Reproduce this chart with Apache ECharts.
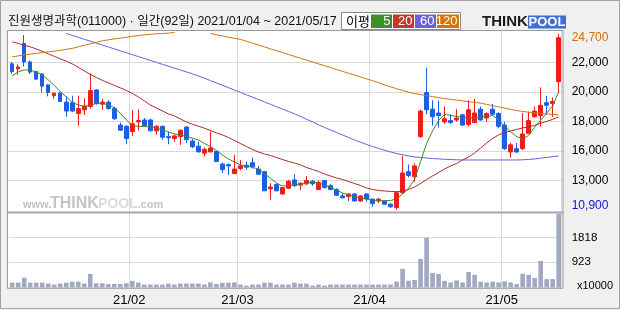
<!DOCTYPE html>
<html><head><meta charset="utf-8">
<script src="https://cdn.jsdelivr.net/npm/echarts@6/dist/echarts.min.js"></script>
<style>html,body{margin:0;padding:0;background:#f0f0f0}#c{width:620px;height:310px}</style>
</head><body><div id="c"></div>
<script>
// ---- data ----
const stockName = '진원생명과학';
const stockCode = '011000';
const periodName = '일간';
const janDays = [4,5,6,7,8,11,12,13,14,15,18,19,20,21,22,25,26,27,28,29];
const febDays = [1,2,3,4,5,8,9,10,15,16,17,18,19,22,23,24,25,26];
const marDays = [2,3,4,5,8,9,10,11,12,15,16,17,18,19,22,23,24,25,26,29,30,31];
const aprDays = [1,2,5,6,7,8,9,12,13,14,15,16,19,20,21,22,23,26,27,28,29,30];
const mayDays = [3,4,6,7,10,11,12,13,14,17];

const openP = [22350,21950,23950,22500,21750,21550,20700,19850,20050,19350,
 19300,18450,18750,19000,20300,19200,19350,18850,17550,17450,
 17050,17800,17950,17950,17100,17450,16650,16500,16650,17400,
 16300,15900,15350,15450,15500,14500,14450,13750,14150,14400,
 14600,14100,13900,12550,12900,12150,12600,13250,12850,12950,
 13150,12500,13200,12800,12500,12000,11950,12150,11600,12150,
 11750,11600,11600,11350,11100,12250,13900,13500,16650,20100,
 18800,18500,17800,17900,17950,18350,17600,17750,18800,18100,
 18800,18450,17550,15450,15700,15700,16900,18200,18300,19300,
 19250,20950];
const closeP = [21750,22100,22500,21700,21150,20600,20100,20050,19400,18650,
 18650,18850,19050,20250,19250,19350,18850,18050,17150,16500,
 17650,17900,17500,17100,17450,16600,16550,16700,17150,16400,
 15850,15450,15650,15750,14700,14050,14350,14100,14350,14250,
 14300,13700,12400,12700,12400,12650,13150,12800,13000,13200,
 12950,13050,12650,12500,12050,11850,12150,11600,12000,11750,
 11400,11750,11350,11150,12250,13800,13600,14350,18650,18750,
 18200,18300,18050,17750,18100,17550,18750,18500,17950,18450,
 18400,17450,15700,16000,15450,16850,17900,18650,19100,19100,
 19400,24400];
const lowP = [21550,21500,22150,21550,21100,20100,19800,19600,19350,18200,
 18600,17500,18350,18850,19150,18750,18750,17950,17100,16050,
 16700,17100,17450,17050,16800,16400,16050,16250,16000,16150,
 15750,15400,15100,15400,14650,13800,13650,13700,14000,14050,
 14150,13650,12400,11700,12350,12100,12550,12700,12450,12850,
 12800,12450,12600,12450,12000,11800,11600,11550,11550,11550,
 11150,11450,11300,11050,10900,12150,13450,13100,16550,18400,
 17500,17350,17650,17650,17800,17500,17450,17700,17900,17800,
 18300,17300,15600,15000,15350,15600,16850,18150,17450,18350,
 18200,20150];
const highP = [22500,22300,24600,22600,21800,21600,20750,20100,20150,19800,
 19850,19850,19650,21600,20350,19600,19500,19000,17750,17550,
 18750,18800,18100,18050,17550,17500,17050,16800,17200,17450,
 16450,16250,15800,17050,15550,14600,14550,15200,14800,14700,
 15000,14350,13950,13000,12950,12700,13250,13700,13050,13550,
 13250,13200,13250,12950,12600,12200,12200,12200,12050,12200,
 11800,11850,11650,11450,12350,15150,14450,14550,18750,22050,
 19500,19450,19000,18400,18800,18400,19500,19600,19000,18550,
 19200,18550,17800,16150,16150,18500,18600,19000,20500,19850,
 19700,24700];
const volume = [170,170,350,170,170,170,135,100,135,170,
 205,205,135,488,146,146,120,120,120,146,
 235,170,100,100,100,100,135,100,135,135,
 135,135,100,180,120,160,170,180,100,60,
 100,100,170,170,100,100,100,170,135,135,
 60,100,60,100,100,100,100,100,100,100,
 100,100,100,100,205,670,240,270,1037,1806,
 525,490,235,175,250,175,560,455,205,175,
 205,180,215,175,120,490,455,340,960,300,
 300,2680];
const ma5 = [21405,21719,21876,21837,21719,21484,21092,20660,20174,19758,
 19327,19131,19013,19091,19248,19209,19170,18896,18480,17954,
 17523,17445,17429,17429,17327,17170,17013,16856,16778,16660,
 16519,16386,16111,15860,15562,15209,14896,14660,14425,14347,
 14229,14111,13758,13382,13013,12778,12817,12856,12895,13013,
 13092,13013,12856,12676,12464,12229,12072,11955,11837,11758,
 11680,11625,11625,11641,11758,12151,12600,13300,14700,16100,
 17100,17900,18386,18307,18229,18150,18111,18111,18190,18229,
 18300,17970,17460,17030,16650,16480,16740,17380,17930,18490,
 19060,20150];
const ma20 = [24072,23954,23797,23680,23523,23327,23131,22935,22739,22558,
 22346,22072,21797,21523,21288,21052,20856,20660,20464,20268,
 20033,19758,19445,19131,18896,18660,18425,18268,18033,17798,
 17617,17460,17303,17131,16935,16778,16582,16347,16111,15876,
 15641,15445,15288,15170,15013,14856,14700,14582,14425,14229,
 14072,13915,13719,13562,13405,13288,13131,12974,12817,12621,
 12504,12425,12386,12347,12331,12362,12504,12700,12974,13288,
 13562,13837,14111,14347,14543,14817,15052,15366,15758,16151,
 16503,16778,16974,17092,17209,17327,17405,17523,17695,17837,
 17994,18190];
const ma60 = [null,null,null,null,null,null,null,null,null,24723,
 24574,24425,24276,24127,23970,23821,23672,23523,23366,23217,
 23068,22919,22770,22621,22464,22315,22166,22017,21868,21719,
 21562,21405,21225,21037,20856,20668,20480,20299,20111,19923,
 19743,19554,19366,19178,18990,18809,18621,18433,18229,18009,
 17798,17578,17366,17170,16974,16778,16582,16386,16206,16033,
 15876,15719,15578,15445,15327,15225,15131,15052,15013,14966,
 14927,14896,14872,14849,14833,14817,14817,14817,14817,14817,
 14817,14817,14817,14817,14817,14833,14856,14896,14951,15013,
 15076,15131];
const ma120 = [22895,22974,23052,23107,23170,23233,23288,23343,23405,23484,
 23562,23680,23797,23915,24033,24150,24229,24307,24362,24425,
 24503,24566,24621,24660,24699,24723,24754,24817,null,null,
 null,null,null,24739,24621,24543,24441,24346,24268,24119,
 23970,23821,23680,23523,23382,23233,23084,22935,22786,22645,
 22503,22346,22205,22056,21907,21759,21617,21468,21327,21170,
 21029,20880,20699,20543,20401,20268,20127,20017,19939,19860,
 19782,19703,19625,19562,19507,19445,19382,19327,19264,19170,
 19076,18974,18880,18778,18691,18621,18558,18503,18464,18425,
 18386,18347];
const priceTickLabels = ['13,000','16,000','18,000','20,000','22,000'];
const volumeTickValues = [923, 1818];
const maPeriods = [5, 20, 60, 120];
const maColors = ['#3e8a22', '#b02a2a', '#6b5fd8', '#d2730f'];
const maBoxColors = ['#3e8e2a', '#c1392b', '#6a62d6', '#d67400'];

// ---- build ----
const pad = n => (n < 10 ? '0' : '') + n;
const categories = [];
[[1, janDays], [2, febDays], [3, marDays], [4, aprDays], [5, mayDays]].forEach(([m, days]) => {
  days.forEach(d => categories.push('2021/' + pad(m) + '/' + pad(d)));
});
const monthStart = i => i > 0 && categories[i].slice(5, 7) !== categories[i - 1].slice(5, 7);
const fmt = v => String(v).replace(/\B(?=(\d{3})+(?!\d))/g, ',');
const candleData = openP.map((o, i) => [o, closeP[i], lowP[i], highP[i]]);
const maxHigh = Math.max(...highP), minLow = Math.min(...lowP);
const maSeries = [ma5, ma20, ma60, ma120];

const LAT = 'Liberation Sans';
const KR = 'Noto Sans CJK KR';
const GRID_LINE = '#d9d9d9';

const titleText = stockName + '(' + stockCode + ') · ' + periodName + '(' + categories.length + '일) ' +
  categories[0] + ' ~ ' + categories[categories.length - 1];

const graphics = [
  {type: 'rect', z: -10, silent: true, shape: {x: 7.5, y: 30.5, width: 555.5, height: 257.8}, style: {fill: '#ffffff'}},
  {type: 'rect', z: 100, silent: true, shape: {x: 7.5, y: 30.5, width: 555.5, height: 257.8}, style: {fill: 'none', stroke: '#9a9a9a', lineWidth: 1}},
  {type: 'line', z: 100, silent: true, shape: {x1: 7.5, y1: 212.5, x2: 563, y2: 212.5}, style: {stroke: '#a8a8a8', lineWidth: 2}},
  {type: 'rect', z: 100, silent: true, shape: {x: 0.5, y: 0.5, width: 619, height: 308}, style: {fill: 'none', stroke: '#a0a0a0', lineWidth: 1}},
  {type: 'text', z: 100, silent: true, x: 8, y: 22, style: {text: titleText, font: '12.5px "' + LAT + '", "' + KR + '"', fill: '#111', textVerticalAlign: 'middle'}},
  // legend box
  {type: 'rect', z: 100, silent: true, shape: {x: 341.5, y: 12.5, width: 119, height: 17}, style: {fill: '#fff', stroke: '#8a8a8a', lineWidth: 1}},
  {type: 'text', z: 101, silent: true, x: 346, y: 21, style: {text: '이평', font: '13px "' + KR + '"', fill: '#000', textVerticalAlign: 'middle'}},
  // logo
  {type: 'text', z: 100, silent: true, x: 482, y: 22, style: {text: 'THINK', font: 'bold 15px "' + LAT + '"', fill: '#1a1a1a', textVerticalAlign: 'middle'}},
  {type: 'rect', z: 100, silent: true, shape: {x: 528, y: 15.5, width: 38, height: 13}, style: {fill: '#3d6fd6'}},
  {type: 'text', z: 101, silent: true, x: 547, y: 22.5, style: {text: 'POOL', font: 'bold 13px "' + LAT + '"', fill: '#fff', textAlign: 'center', textVerticalAlign: 'middle'}},
  // watermark
  {type: 'text', z: 1, silent: true, x: 23, y: 205, style: {text: 'www.', font: 'bold 11px "' + LAT + '"', fill: '#c2c2c2', textVerticalAlign: 'middle'}},
  {type: 'text', z: 1, silent: true, x: 50, y: 204, style: {text: 'THINK', font: 'bold 16px "' + LAT + '"', fill: '#c4c4c4', textVerticalAlign: 'middle'}},
  {type: 'text', z: 1, silent: true, x: 98, y: 204.5, style: {text: 'POOL', font: 'bold 14px "' + LAT + '"', fill: '#dcdcdc', textVerticalAlign: 'middle'}},
  {type: 'text', z: 1, silent: true, x: 137.5, y: 205, style: {text: '.com', font: 'bold 11px "' + LAT + '"', fill: '#c2c2c2', textVerticalAlign: 'middle'}},
  // volume unit
  {type: 'text', z: 100, silent: true, x: 577, y: 286, style: {text: 'x10000', font: '11px "' + LAT + '"', fill: '#000', textVerticalAlign: 'middle'}}
];
maPeriods.forEach((p, k) => {
  const bx = 371 + k * 22, bw = k === 3 ? 22 : 21;
  graphics.push({type: 'rect', z: 101, silent: true, shape: {x: bx, y: 14.5, width: bw, height: 13.5}, style: {fill: maBoxColors[k]}});
  graphics.push({type: 'text', z: 102, silent: true, x: bx + bw - 1.5, y: 21.5, style: {text: String(p), font: '13px "' + LAT + '"', fill: '#fff', textAlign: 'right', textVerticalAlign: 'middle'}});
});

const option = {
  animation: false,
  backgroundColor: '#f0f0f0',
  grid: [
    {left: 9.2, top: 30, width: 552.5, height: 182.5},
    {left: 7.5, top: 62.7, width: 555.5, height: 117.8},
    {left: 9.2, top: 212.5, width: 552.5, height: 74.8}
  ],
  xAxis: [
    {type: 'category', gridIndex: 0, data: categories, boundaryGap: true,
      axisLine: {show: false}, axisTick: {show: false}, axisLabel: {show: false},
      splitLine: {show: true, interval: (i) => monthStart(i), lineStyle: {color: GRID_LINE, width: 1}}},
    {type: 'value', gridIndex: 1, min: 0, max: 1, show: false},
    {type: 'category', gridIndex: 2, data: categories, boundaryGap: true,
      axisLine: {show: false}, axisTick: {show: false},
      axisLabel: {interval: (i) => monthStart(i), formatter: v => v.slice(2, 4) + '/' + v.slice(5, 7),
        margin: 7, fontSize: 13, fontFamily: LAT, color: '#000', padding: [0, 6, 0, 0]},
      splitLine: {show: true, interval: (i) => monthStart(i), lineStyle: {color: GRID_LINE, width: 1}}}
  ],
  yAxis: [
    {type: 'value', gridIndex: 0, position: 'right', min: 10700, max: 25000, scale: true,
      splitLine: {show: false}, axisLine: {show: false}, axisTick: {show: false},
      axisLabel: {customValues: [minLow, maxHigh], margin: 10, fontFamily: LAT, fontSize: 12,
        formatter: v => (v === maxHigh ? '{hi|' + fmt(v) + '}' : '{lo|' + fmt(v) + '}'),
        rich: {
          hi: {color: '#d26e00', fontFamily: LAT, fontSize: 12, padding: [7, 0, 0, 0]},
          lo: {color: '#1212d0', fontFamily: LAT, fontSize: 12, padding: [0, 0, 8.5, 0]}
        }}},
    {type: 'value', gridIndex: 1, position: 'right', min: 1, max: 5, interval: 1,
      splitLine: {show: true, lineStyle: {color: GRID_LINE, width: 1}}, axisLine: {show: false}, axisTick: {show: false},
      axisLabel: {margin: 8.7, fontFamily: LAT, fontSize: 12, color: '#000', showMinLabel: true, showMaxLabel: true,
        formatter: v => priceTickLabels[Math.round(v) - 1] || ''}},
    {type: 'value', gridIndex: 2, position: 'right', min: 0, max: 2727, interval: 909,
      splitLine: {show: true, lineStyle: {color: GRID_LINE, width: 1}}, axisLine: {show: false}, axisTick: {show: false},
      axisLabel: {customValues: volumeTickValues, margin: 10, fontFamily: LAT, fontSize: 11.5, color: '#000',
        formatter: v => String(v)}}
  ],
  graphic: {elements: graphics},
  series: [
    {type: 'candlestick', xAxisIndex: 0, yAxisIndex: 0, data: candleData, barWidth: 4, z: 2,
      itemStyle: {color: '#f01c1c', color0: '#1c5fe4', borderColor: '#f01c1c', borderColor0: '#1c5fe4', borderWidth: 1}},
    ...maSeries.map((d, k) => ({type: 'line', xAxisIndex: 0, yAxisIndex: 0, data: d, symbol: 'none', z: 3,
      connectNulls: false, lineStyle: {color: maColors[k], width: 1}})),
    {type: 'bar', xAxisIndex: 2, yAxisIndex: 2, data: volume, barWidth: 4.6, itemStyle: {color: '#a1a9c2'}}
  ]
};
const chart = echarts.init(document.getElementById('c'));
chart.setOption(option);
</script></body></html>
